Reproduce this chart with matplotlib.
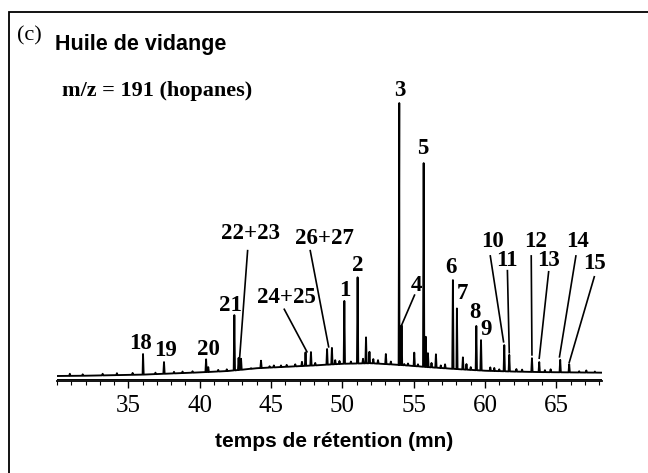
import matplotlib
matplotlib.use("Agg")
import matplotlib.pyplot as plt
import numpy as np
from matplotlib.ticker import MultipleLocator
from matplotlib.patches import Rectangle

# baseline of the m/z 191 trace (retention time in min, relative intensity)
base_rt = [30.0, 32, 34, 36, 38, 40, 42, 44, 46, 48, 50, 52, 54, 56, 58, 60, 62, 64, 66, 68.2]
base_int = [1.8, 1.9, 2.1, 2.3, 2.7, 3.1, 3.6, 4.6, 5.1, 5.6, 6.2, 6.4, 5.8, 5.0, 4.3, 3.7, 3.4, 3.2, 3.1, 3.0]

# peaks: retention time and apex intensity (peak 3 = 100)
peak_rt = [30.9, 31.8, 33.2, 34.2, 35.3, 36.03, 36.9, 37.5, 38.2, 38.8, 39.5, 40.45, 40.6, 41.3, 41.9,
           42.43, 42.73, 42.9, 43.6, 44.3, 44.9, 45.2, 45.7, 46.1, 46.7, 47.17, 47.42, 47.8, 48.1,
           48.93, 49.27, 49.5, 49.8, 50.14, 50.6, 51.07, 51.45, 51.66, 51.9, 52.17, 52.5,
           53.05, 53.4, 53.99, 54.15, 54.34, 54.6, 55.04, 55.3, 55.7, 55.85, 56.0,
           56.25, 56.56, 56.9, 57.2, 57.75, 58.03, 58.45, 58.7, 59.0, 59.39, 59.72, 60.37,
           60.65, 61.0, 61.35, 61.70, 62.2, 62.6, 63.29, 63.80, 64.2, 64.6, 65.27, 65.9, 66.6, 67.1, 67.7]
peak_int = [2.6, 2.4, 2.6, 2.8, 2.9, 9.7, 3.0, 6.8, 3.3, 3.4, 3.5, 7.8, 5.0, 4.0, 4.2,
            23.7, 8.3, 8.0, 4.6, 7.3, 5.3, 5.6, 5.6, 5.8, 6.0, 6.9, 10.3, 10.4, 6.5,
            11.5, 11.9, 7.5, 7.2, 28.8, 7.0, 37.3, 8.0, 15.7, 10.5, 7.9, 7.5,
            9.7, 7.0, 100.0, 20.0, 6.1, 6.3, 10.2, 6.0, 78.4, 15.9, 10.0,
            6.5, 9.6, 5.6, 6.0, 36.3, 26.1, 8.5, 6.1, 5.0, 19.8, 14.7, 4.9,
            4.7, 4.2, 12.9, 9.4, 4.3, 4.1, 8.2, 6.8, 3.9, 4.2, 7.6, 6.0, 3.5, 3.8, 3.4]

# peak names placed above the trace
labels = ["3", "5", "1", "2", "4", "6", "7", "8", "9", "10", "11", "12", "13",
          "14", "15", "18", "19", "20", "21", "22+23", "24+25", "26+27"]
label_rt = [54.0, 55.67, 50.14, 51.07, 55.18, 57.63, 58.45, 59.27, 60.07, 60.56,
            61.54, 63.52, 64.48, 66.51, 67.66, 35.84, 37.64, 40.63, 42.15, 43.58,
            46.09, 48.76]
label_int = [104.7, 83.5, 32.7, 41.5, 34.2, 40.9, 31.5, 24.6, 18.6, 50.1,
             43.2, 50.1, 43.2, 50.1, 42.3, 13.6, 10.9, 11.2, 27.3, 53.1,
             30.0, 51.1]

# leader lines from label to peak
leaders = [((43.36, 46.9), (42.80, 8.3)),
           ((45.93, 25.8), (47.52, 10.5)),
           ((47.75, 46.9), (49.04, 12.3)),
           ((55.06, 30.9), (54.13, 19.8)),
           ((60.37, 45.0), (61.30, 14.1)),
           ((61.57, 39.7), (61.70, 10.2)),
           ((63.24, 45.0), (63.29, 9.4)),
           ((64.46, 39.3), (63.80, 8.2)),
           ((66.37, 45.0), (65.22, 8.7)),
           ((67.66, 37.5), (65.90, 6.6))]

# build the stick-like chromatogram
xs = list(base_rt)
ys = list(base_int)
w = 0.045
for rt, h in zip(peak_rt, peak_int):
    foot = np.interp(rt, base_rt, base_int)
    xs += [rt - w, rt, rt + w]
    ys += [foot, h, foot]
order = np.argsort(xs, kind="stable")
xs = np.array(xs)[order]
ys = np.array(ys)[order]

serif = "Liberation Serif"
sans = "Liberation Sans"

fig = plt.figure(figsize=(6.48, 4.73), dpi=100)
ax = fig.add_axes([57 / 648, (473 - 381) / 473, 545 / 648, 321 / 473])

ax.plot(xs, ys, color="black", lw=1.35)
ax.axhline(0.8, color="black", lw=0.7)

ax.set_xlim(30.0, 68.2)
ax.set_ylim(0, 115.5)
for s in ["top", "left", "right"]:
    ax.spines[s].set_visible(False)
ax.spines["bottom"].set_linewidth(1.3)
ax.set_yticks([])
ax.set_xticks(range(35, 66, 5))
ax.xaxis.set_minor_locator(MultipleLocator(1))
ax.tick_params(axis="x", which="major", length=5, width=1, direction="out", pad=5, labelsize=18)
ax.tick_params(axis="x", which="minor", length=3, width=0.8, direction="out")
for t in ax.get_xticklabels():
    t.set_fontfamily(serif)

for lab, lx, ly in zip(labels, label_rt, label_int):
    ax.text(lx, ly, lab, ha="center", va="center", fontsize=16.5, fontweight="bold",
            fontfamily=serif)
for (x0, y0), (x1, y1) in leaders:
    ax.plot([x0, x1], [y0, y1], color="black", lw=1.2)

# panel frame and titles
fig.add_artist(Rectangle((8.5 / 648, -0.1), 1.2, 1.1 - 12 / 473, transform=fig.transFigure,
                         fill=False, edgecolor="black", lw=1.3))
fig.text(17 / 648, 1 - 40 / 473, "(c)", fontsize=16, fontfamily=serif, va="baseline")
fig.text(55 / 648, 1 - 50 / 473, "Huile de vidange", fontsize=15.5, fontweight="bold",
         fontfamily=sans, va="baseline")
fig.text(62 / 648, 1 - 96 / 473, "m/z = 191 (hopanes)", fontsize=16, fontweight="bold",
         fontfamily=serif, va="baseline")
fig.text(334 / 648, 1 - 441 / 473, "temps de rétention (mn)", fontsize=15,
         fontweight="bold", fontfamily=sans, ha="center", va="center")

fig.savefig("out.png", dpi=100)
